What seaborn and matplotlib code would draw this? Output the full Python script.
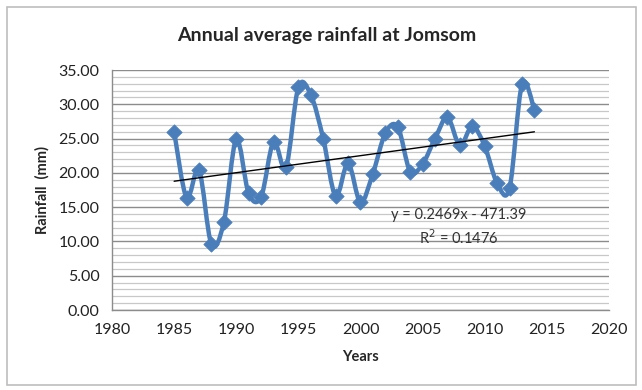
import matplotlib
matplotlib.use("Agg")
import matplotlib.pyplot as plt
from matplotlib.path import Path
from matplotlib.patches import PathPatch, Rectangle
from matplotlib.ticker import MultipleLocator, FormatStrFormatter
import numpy as np
import pandas as pd
import seaborn as sns

# annual average rainfall at Jomsom
years = list(range(1985, 2015))
rainfall = [26.0, 16.4, 20.4, 9.6, 12.8, 24.9, 17.0, 16.5, 24.5, 20.8,
            32.5, 31.4, 25.0, 16.6, 21.4, 15.7, 19.9, 25.8, 26.7, 20.2,
            21.3, 25.0, 28.1, 24.0, 26.8, 23.9, 18.5, 17.8, 32.9, 29.2]
trend_label = "y = 0.2469x - 471.39"
r2_label = "R$^2$ = 0.1476"

df = pd.DataFrame({"Years": years, "Rainfall": rainfall})

sns.set_style("white")
plt.rcParams["font.family"] = ["Lato", "DejaVu Sans"]

blue = "#4A7EBB"

fig = plt.figure(figsize=(6.42, 3.9), dpi=100)
ax = fig.add_axes([0.1745, 0.205, 0.774, 0.6155])

# excel-like smoothed line (catmull-rom as bezier segments)
pts = df[["Years", "Rainfall"]].to_numpy(dtype=float)
verts = [pts[0]]
codes = [Path.MOVETO]
n = len(pts)
for i in range(n - 1):
    p0 = pts[max(i - 1, 0)]
    p1 = pts[i]
    p2 = pts[i + 1]
    p3 = pts[min(i + 2, n - 1)]
    verts += [p1 + (p2 - p0) / 6, p2 - (p3 - p1) / 6, p2]
    codes += [Path.CURVE4] * 3
ax.add_patch(PathPatch(Path(verts, codes), facecolor="none", edgecolor=blue,
                       lw=3.2, capstyle="round", joinstyle="round", zorder=3))

sns.scatterplot(data=df, x="Years", y="Rainfall", marker="D", s=60,
                color=blue, edgecolor=blue, ax=ax, zorder=4)

sns.regplot(data=df, x="Years", y="Rainfall", scatter=False, ci=None,
            color="black", line_kws={"lw": 1.0, "zorder": 5}, ax=ax)

ax.text(2007.9, 13.85, trend_label, ha="center", va="center", fontsize=10.5, color="#333333")
ax.text(2007.9, 10.6, r2_label, ha="center", va="center", fontsize=10.5, color="#333333")

ax.set_xlim(1980, 2020)
ax.set_ylim(0, 35)
ax.xaxis.set_major_locator(MultipleLocator(5))
ax.yaxis.set_major_locator(MultipleLocator(5))
ax.yaxis.set_minor_locator(MultipleLocator(1))
ax.yaxis.set_major_formatter(FormatStrFormatter("%.2f"))
ax.grid(axis="y", which="major", color="#8C8C8C", lw=1.0)
ax.grid(axis="y", which="minor", color="#C8C8C8", lw=0.9)
ax.set_axisbelow(True)

for s in ["top", "right"]:
    ax.spines[s].set_visible(False)
for s in ["left", "bottom"]:
    ax.spines[s].set_color("#8C8C8C")
    ax.spines[s].set_linewidth(1.0)
ax.tick_params(axis="both", which="major", direction="out", length=5, width=1,
               color="#8C8C8C", labelsize=11.5, labelcolor="#222222", pad=4)
ax.tick_params(axis="y", which="minor", length=0)

ax.set_xlabel("Years", fontsize=10.5, fontweight="bold", labelpad=10)
ax.set_ylabel("Rainfall  (mm)", fontsize=10.5, fontweight="bold", labelpad=6)
fig.text(327 / 642, 1 - 36 / 390, "Annual average rainfall at Jomsom",
         ha="center", va="center", fontsize=14, fontweight="bold")

fig.patches.append(Rectangle((7 / 642, 5 / 390), 629 / 642, 378 / 390,
                             transform=fig.transFigure, facecolor="none",
                             edgecolor="#BDBDBD", lw=1.2))

fig.savefig("out.png", dpi=100)
